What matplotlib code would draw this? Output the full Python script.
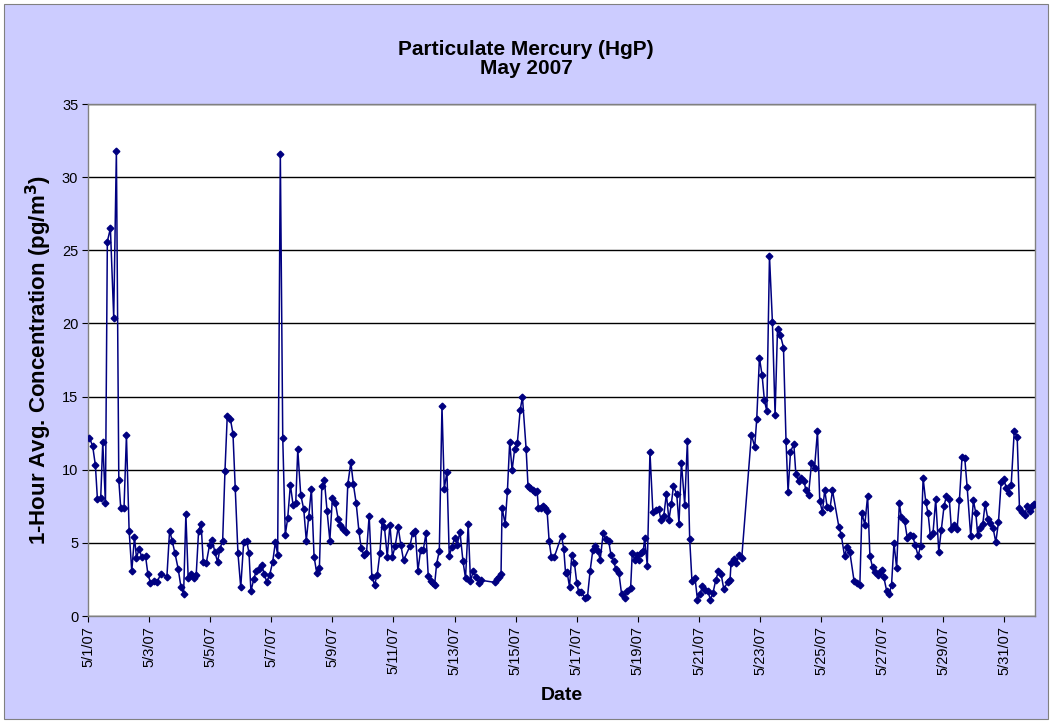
import matplotlib
matplotlib.use("Agg")
import matplotlib.pyplot as plt
from matplotlib.patches import Rectangle

# hours since 5/1/07 00:00
hours = [
    1.1, 3.7, 5.8, 7.4, 10.0, 11.6, 13.7, 15.2, 17.6, 20.2, 22.3, 24.2, 25.7, 28.3, 30.2,
    32.3, 34.4, 36.5, 38.1, 40.2, 42.3, 45.2, 47.0, 49.1, 51.7, 54.3, 57.2, 62.0, 64.1,
    66.1, 68.3, 70.9, 73.0, 75.1, 76.9, 78.7, 80.8, 82.9, 85.0, 86.9, 88.9, 90.5, 92.9,
    95.5, 97.6, 99.7, 101.8, 103.7, 105.8, 107.6, 109.4, 111.8, 113.9, 115.7, 117.8,
    120.0, 122.3,
    124.6, 126.5, 128.0, 130.2, 132.2, 134.3, 136.4, 138.3, 140.4, 142.7, 145.1, 147.2,
    149.0, 151.1, 153.0, 155.0, 156.9, 159.0, 161.1, 163.2, 164.8, 167.1, 169.5, 171.5,
    173.4, 175.5, 177.6, 179.7, 181.8, 183.7, 185.7, 187.8, 190.0, 192.0, 194.4, 196.5,
    198.3, 200.2, 202.6, 204.1, 206.5, 208.5, 210.7, 212.8, 214.6, 216.7, 218.8, 220.9,
    223.0, 225.1, 227.2, 229.3, 231.1, 232.9, 235.1, 237.2, 239.2, 241.3, 243.7, 245.8,
    247.9,
    252.9, 255.0, 257.1, 259.2, 261.3, 263.4, 265.5, 267.3, 269.4, 270.7, 272.3, 273.9,
    276.0, 278.1, 279.9, 282.0, 283.8, 285.9, 288.0, 290.1, 292.2, 294.6, 296.6, 298.7,
    300.5, 302.6, 304.8, 306.8, 309.0, 319.5, 321.4, 322.9, 324.5, 325.3, 327.7, 329.5,
    331.3, 333.2, 335.2, 337.3, 339.5, 341.3, 344.2, 345.7, 347.6, 349.4, 351.3, 352.8,
    353.9, 355.7, 357.8, 358.8, 360.7, 362.3, 364.1, 366.2, 372.0, 373.8, 375.2,
    376.4, 378.3, 380.1, 382.2, 384.0, 385.6, 387.7, 390.3, 392.4, 394.5, 396.6, 398.7,
    400.5, 402.4, 404.8, 406.6, 409.0, 410.8, 412.9, 414.7, 417.1, 419.2, 421.5, 423.4,
    426.3, 427.6, 429.4, 431.0, 432.6, 434.1, 436.3, 437.3, 439.4, 441.5, 443.8, 446.0,
    448.3, 450.2, 452.3, 454.4, 456.4, 458.3, 459.9, 462.5, 464.3, 466.2, 468.8, 470.9,
    472.7, 474.5, 476.9, 478.8, 480.8, 482.7, 484.8, 486.9, 489.0, 491.0, 493.2, 495.3,
    497.3, 499.5,
    502.8, 504.4, 505.2, 507.3, 509.4, 511.5, 513.6, 521.2, 523.8, 525.4, 527.5, 529.6,
    531.4, 533.3, 535.4, 537.7, 539.8, 541.7, 544.0, 546.4, 548.4, 550.0, 551.9, 554.5,
    556.1, 558.2, 560.2, 562.6, 563.9, 566.1, 568.4, 570.8, 573.1, 574.9, 577.0, 578.8,
    580.7, 583.0, 584.9, 589.9, 591.7, 594.4, 596.4, 598.5, 601.9, 604.1, 606.4, 608.0,
    610.3, 612.5, 614.3, 616.4, 618.2, 620.4, 621.9, 623.5, 625.1,
    627.5, 629.4, 631.3, 633.2, 635.3, 637.4, 639.0, 641.6, 643.7, 645.8, 647.9, 650.0,
    652.1, 654.3, 656.1, 658.2, 660.0, 661.8, 663.9, 666.0, 668.4, 670.4, 672.6, 674.4,
    676.7, 678.3, 680.2, 682.8, 684.6, 686.7, 688.8, 690.7, 693.5, 695.6, 697.5, 699.0,
    700.9, 703.0, 704.8, 706.9, 709.0, 711.1, 713.2, 715.3, 717.4, 719.5, 721.4, 723.2,
    725.3, 727.7, 730.0, 731.8, 733.7, 735.8, 737.9, 740.0, 741.8, 743.4,
]

# 1-hour avg HgP concentration, pg/m3
conc = [
    12.2, 11.6, 10.3, 8.0, 8.1, 11.9, 7.7, 25.6, 26.5, 20.4, 31.8, 9.3, 7.4, 7.4, 12.35,
    5.84, 3.06, 5.4, 3.97, 4.6, 4.0, 4.1, 2.9, 2.26, 2.4, 2.3, 2.9, 2.7, 5.84,
    5.16, 4.3, 3.2, 2.0, 1.5, 6.96, 2.6, 2.9, 2.6, 2.8, 5.84, 6.3, 3.7, 3.6,
    4.86, 5.2, 4.35, 3.7, 4.6, 5.16, 9.9, 13.67, 13.5, 12.45, 8.77, 4.3,
    1.96, 5.04,
    5.16, 4.3, 1.7, 2.5, 3.1, 3.2, 3.5, 2.9, 2.35, 2.8, 3.7, 5.04,
    4.2, 31.6, 12.16, 5.55, 6.7, 8.97, 7.6, 7.7, 11.4, 8.3, 7.3, 5.16,
    6.8, 8.7, 4.06, 2.94, 3.3, 8.9, 9.27, 7.2, 5.16, 8.06, 7.7, 6.64,
    6.25, 5.96, 5.77, 9.0, 10.5, 9.0, 7.7, 5.84, 4.65, 4.2, 4.3, 6.87,
    2.7, 2.14, 2.8, 4.3, 6.48, 6.07, 4.06, 6.25, 4.06, 4.77, 6.07, 4.86,
    3.8,
    4.77, 5.66, 5.8, 3.1, 4.5, 4.5, 5.64, 2.76, 2.37, 2.25, 2.14, 3.56,
    4.47, 14.34, 8.7, 9.86, 4.13, 4.7, 5.34, 4.88, 5.77, 3.74, 2.58, 6.3,
    2.37, 3.05, 2.7, 2.25, 2.44, 2.3, 2.5, 2.7, 2.9, 7.4, 6.3, 8.53,
    11.9, 9.95, 11.43, 11.82, 14.06, 14.97, 11.43, 8.86, 8.74, 8.63, 8.5, 8.57,
    7.35, 7.37, 7.49, 7.4, 7.16, 5.1, 4.0, 4.0, 5.48, 4.57, 2.92,
    2.99, 2.0, 4.2, 3.6, 2.26, 1.62, 1.67, 1.2, 1.3, 3.1, 4.5, 4.77,
    4.47, 3.86, 5.68, 5.23, 5.16, 4.2, 3.74, 3.22, 2.94, 1.5, 1.2, 1.74,
    1.9, 4.3, 3.86, 4.2, 3.8, 4.3, 4.43, 5.34, 3.44, 11.2, 7.08, 7.28,
    7.3, 6.57, 6.82, 8.35, 6.57, 7.67, 8.86, 8.35, 6.3, 10.48, 7.62, 11.96,
    5.27, 2.37, 2.6, 1.12, 1.5, 2.03, 1.8, 1.74, 1.12, 1.57, 2.46, 3.05,
    2.9, 1.85,
    2.35, 2.46, 3.62, 3.9, 3.62, 4.18, 3.97, 12.4, 11.55, 13.5, 17.65, 16.46,
    14.75, 14.0, 24.6, 20.1, 13.74, 19.63, 19.2, 18.35, 11.96, 8.47, 11.2, 11.78,
    9.73, 9.2, 9.45, 9.2, 8.63, 8.3, 10.45, 10.14, 12.62, 7.85, 7.1, 8.63,
    7.44, 7.4, 8.58, 6.1, 5.57, 4.08, 4.75, 4.38, 2.37, 2.26, 2.13, 7.03,
    6.25, 8.22, 4.1, 3.33, 2.99, 2.8, 3.0, 3.17, 2.7,
    1.7, 1.5, 2.14, 4.97, 3.29, 7.71, 6.75, 6.48, 5.32, 5.55, 5.46, 4.82,
    4.13, 4.8, 9.43, 7.78, 7.03, 5.45, 5.7, 7.97, 4.4, 5.89, 7.55, 8.19,
    7.97, 5.96, 6.19, 5.96, 7.9, 10.9, 10.8, 8.81, 5.45, 7.9, 7.03, 5.55,
    6.03, 6.3, 7.67, 6.66, 6.34, 6.0, 5.04, 6.41, 9.15, 9.34, 8.77, 8.42,
    8.97, 12.65, 12.24, 7.37, 7.14, 6.92, 7.49, 7.21, 7.49, 7.67,
]

tick_days = list(range(1, 32, 2))
tick_labels = [f"5/{d}/07" for d in tick_days]

plt.rcParams['font.family'] = ['Liberation Sans', 'DejaVu Sans']

fig = plt.figure(figsize=(10.52, 7.23), dpi=100)
fig.patch.set_facecolor('white')
# lavender chart area with thin border
fig.add_artist(Rectangle((0.004, 0.006), 0.992, 0.988, transform=fig.transFigure,
                         facecolor='#CCCCFF', edgecolor='#808080', lw=0.8, zorder=-5))

ax = fig.add_axes([88 / 1052, 1 - 616 / 723, (1035 - 88) / 1052, (616 - 104) / 723])
ax.set_facecolor('white')

ax.plot(hours, conc, color='#000080', lw=1.1, marker='D', markersize=3.4,
        markerfacecolor='#000080', markeredgecolor='#000080', zorder=3)

ax.set_xlim(0, 744)
ax.set_ylim(0, 35)
ax.set_yticks(range(0, 36, 5))
ax.set_xticks([(d - 1) * 24 for d in tick_days])
ax.set_xticklabels(tick_labels, rotation=90, fontsize=10.5)
ax.tick_params(axis='y', labelsize=10.5, length=4, pad=3, direction='out')
ax.tick_params(axis='x', length=4, pad=3, direction='out')

ax.grid(axis='y', color='black', lw=1.0)
ax.set_axisbelow(True)
for s in ax.spines.values():
    s.set_color('#808080')
    s.set_linewidth(1.0)

ax.set_ylabel('1-Hour Avg. Concentration (pg/m$^\\mathbf{3}$)', fontsize=16,
              fontweight='bold', labelpad=6)
ax.set_xlabel('Date', fontsize=14, fontweight='bold', labelpad=9)

fig.text(526 / 1052, 1 - 59 / 723, 'Particulate Mercury (HgP)\nMay 2007',
         ha='center', va='center', fontsize=15, fontweight='bold', linespacing=1.05)

fig.savefig('out.png', dpi=100, facecolor=fig.get_facecolor())
